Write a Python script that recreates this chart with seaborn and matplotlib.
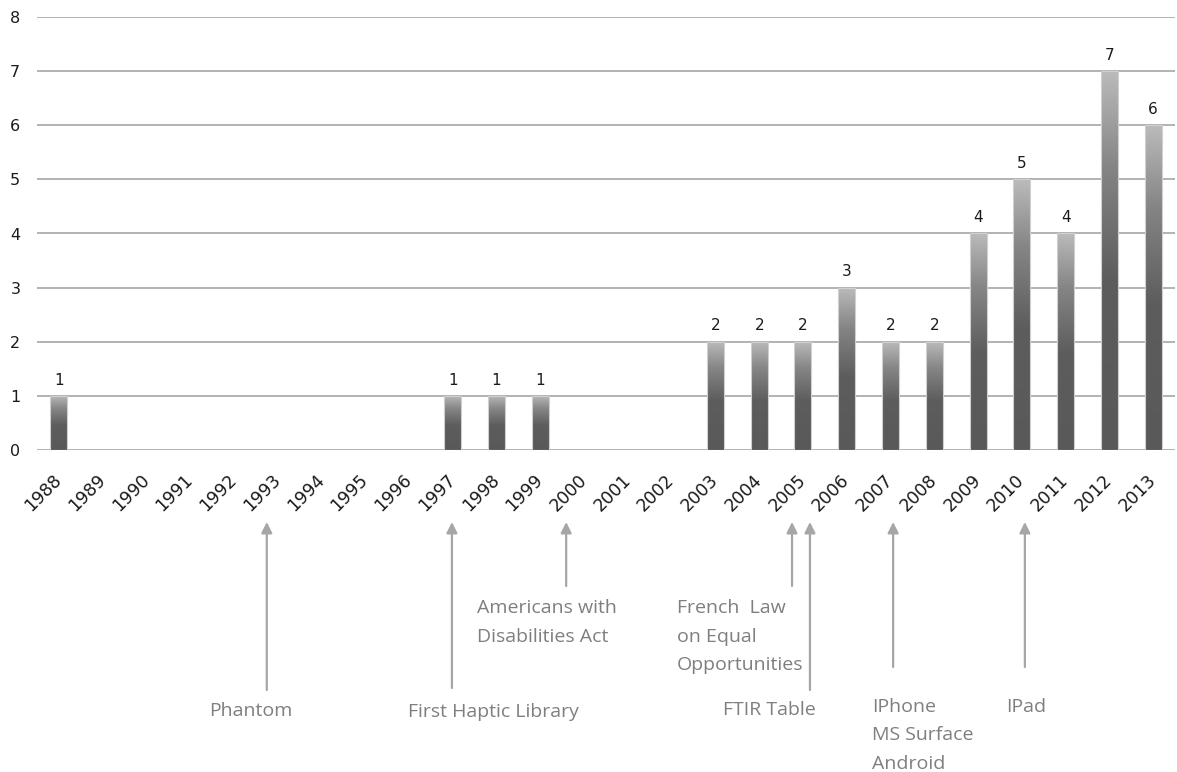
import numpy as np
import pandas as pd
import matplotlib
matplotlib.use("Agg")
import matplotlib.pyplot as plt
import seaborn as sns
from matplotlib.colors import LinearSegmentedColormap

# Publications per year
years = [1988, 1989, 1990, 1991, 1992, 1993, 1994, 1995, 1996, 1997, 1998, 1999, 2000,
         2001, 2002, 2003, 2004, 2005, 2006, 2007, 2008, 2009, 2010, 2011, 2012, 2013]
counts = [1, 0, 0, 0, 0, 0, 0, 0, 0, 1, 1, 1, 0,
          0, 0, 2, 2, 2, 3, 2, 2, 4, 5, 4, 7, 6]
y_ticks = [0, 1, 2, 3, 4, 5, 6, 7, 8]

# Milestones shown under the timeline
event_labels = ["Phantom", "First Haptic Library", "Americans with\nDisabilities Act",
                "French  Law\non Equal\nOpportunities", "FTIR Table",
                "IPhone\nMS Surface\nAndroid", "IPad"]
event_years = [1993, 1997, 2000, 2005, 2005, 2007, 2010]

# Layout of the milestone annotations (pixels from the top-left of the figure)
W, H = 1177, 772
arrow_dx = [-0.25, -0.02, -0.41, -0.25, 0.16, 0.06, 0.07]
arrow_tip_px = 522
arrow_tail_px = [690, 688, 586, 586, 690, 667, 667]
text_xy_px = [(251, 711), (493, 712), (477, 599), (677, 599), (769, 710), (872, 698), (1006, 698)]
text_ha = ["center", "center", "left", "left", "center", "left", "left"]
text_va = ["center", "center", "top", "top", "center", "top", "top"]

sns.set_theme(style="white")
plt.rcParams["font.family"] = ["DejaVu Sans"]

df = pd.DataFrame({"year": [str(y) for y in years], "count": counts})

fig = plt.figure(figsize=(W / 100, H / 100), dpi=100)
ax = fig.add_axes([37 / W, 1 - 450 / H, (1175 - 37) / W, (450 - 17) / H])

sns.barplot(data=df, x="year", y="count", color="#5a5a5a", width=0.39,
            ax=ax, zorder=3)

# Vertical grey gradient inside each bar
cmap = LinearSegmentedColormap.from_list(
    "bar_grad", [(0.0, "#595959"), (0.45, "#5d5d5d"), (0.75, "#858585"), (1.0, "#bbbbbb")])
grad = np.linspace(0, 1, 256).reshape(-1, 1)
for patch in ax.patches:
    h = patch.get_height()
    patch.set_edgecolor("#d0d0d0")
    patch.set_linewidth(0.8)
    if h <= 0:
        patch.set_visible(False)
        continue
    x0, w = patch.get_x(), patch.get_width()
    im = ax.imshow(grad, cmap=cmap, extent=[x0, x0 + w, 0, h], origin="lower",
                   aspect="auto", zorder=2.5, interpolation="bilinear")
    im.set_clip_path(patch)
    patch.set_facecolor("none")

ax.bar_label(ax.containers[0], labels=[str(v) if v else "" for v in counts],
             padding=6, fontsize=11, color="#1a1a1a")

ax.set_xlim(-0.5, len(years) - 0.5)
ax.set_ylim(0, 8)
ax.set_yticks(y_ticks)
ax.set_yticklabels([str(t) for t in y_ticks], fontsize=11.5, color="#1a1a1a")
ax.set_xticks(range(len(years)))
ax.set_xticklabels([str(y) for y in years], rotation=45, ha="right", va="center",
                   rotation_mode="anchor", fontsize=12.5, color="#1a1a1a")
ax.tick_params(axis="y", length=0, pad=12)
ax.tick_params(axis="x", length=0, pad=19.5)
ax.set_xlabel("")
ax.set_ylabel("")

ax.yaxis.grid(True, color="#a6a6a6", linewidth=1.2)
ax.xaxis.grid(False)
ax.set_axisbelow(True)
for s in ax.spines.values():
    s.set_visible(False)

# Milestone arrows and captions
for i, label in enumerate(event_labels):
    xi = years.index(event_years[i]) + arrow_dx[i]
    ax.annotate("", xy=(xi, 1 - arrow_tip_px / H), xycoords=("data", "figure fraction"),
                xytext=(xi, 1 - arrow_tail_px[i] / H), textcoords=("data", "figure fraction"),
                arrowprops=dict(arrowstyle="-|>", color="#a6a6a6", lw=1.6,
                                mutation_scale=16, shrinkA=0, shrinkB=0),
                annotation_clip=False)
    tx, ty = text_xy_px[i]
    fig.text(tx / W, 1 - ty / H, label, ha=text_ha[i], va=text_va[i],
             fontsize=14, color="#7f7f7f", family=["Open Sans", "DejaVu Sans"],
             linespacing=1.75)

fig.savefig("out.png", dpi=100)
